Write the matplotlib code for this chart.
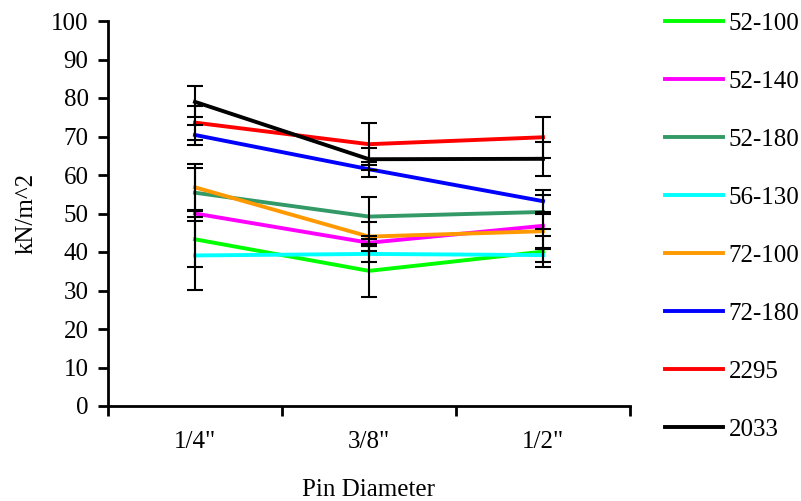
import numpy as np
import matplotlib
matplotlib.use('Agg')
import matplotlib.pyplot as plt

plt.rcParams['font.family'] = ['Liberation Serif', 'DejaVu Serif']

categories = ['1/4"', '3/8"', '1/2"']
series_names = ['52-100', '52-140', '52-180', '56-130', '72-100', '72-180', '2295', '2033']
colors = ['#00FF00', '#FF00FF', '#339966', '#00FFFF', '#FF9900', '#0000FF', '#FF0000', '#000000']

# mean values (kN/m^2)
v_52_100 = [43.3, 35.1, 40.1]
v_52_140 = [50.0, 42.4, 46.8]
v_52_180 = [55.4, 49.2, 50.4]
v_56_130 = [39.1, 39.5, 39.2]
v_72_100 = [56.8, 44.0, 45.4]
v_72_180 = [70.4, 61.5, 53.2]
v_2295 = [73.6, 68.0, 69.8]
v_2033 = [79.0, 64.1, 64.2]

# error bar half-lengths
e_52_100 = [7.25, 6.9, 4.1]
e_52_140 = [0.0, 0.9, 0.0]
e_52_180 = [6.4, 5.0, 4.4]
e_56_130 = [9.0, 2.0, 1.85]
e_72_100 = [6.0, 3.7, 4.6]
e_72_180 = [2.6, 2.0, 2.8]
e_2295 = [4.45, 5.4, 5.3]
e_2033 = [4.0, 2.8, 4.4]

values = [v_52_100, v_52_140, v_52_180, v_56_130, v_72_100, v_72_180, v_2295, v_2033]
errors = [e_52_100, e_52_140, e_52_180, e_56_130, e_72_100, e_72_180, e_2295, e_2033]

fig = plt.figure(figsize=(8.01, 5.01), dpi=100)
ax = fig.add_axes([108 / 801, 1 - 406 / 501, (630 - 108) / 801, (406 - 21) / 501])

x = np.arange(len(categories))
for name, col, vals, err in zip(series_names, colors, values, errors):
    vals = np.array(vals)
    err = np.array(err)
    ax.plot(x, vals, color=col, lw=2.8, label=name, zorder=2)
    m = err > 0
    ax.errorbar(x[m], vals[m], yerr=err[m], fmt='none', ecolor='black',
                elinewidth=1.5, capsize=6, capthick=1.5, zorder=3)

ax.set_xlim(-0.5, 2.5)
ax.set_ylim(0, 100)
ax.set_yticks(np.arange(0, 101, 10))
ax.set_xticks(x)
ax.set_xticklabels(categories)
ax.set_xticks([-0.5, 0.5, 1.5, 2.5], minor=True)
ax.tick_params(axis='x', which='major', length=0, pad=18, labelsize=18)
ax.tick_params(axis='x', which='minor', length=7, width=2, direction='out')
ax.tick_params(axis='y', length=7, width=2, direction='out', pad=7, labelsize=18)

for s in ['top', 'right']:
    ax.spines[s].set_visible(False)
for s in ['left', 'bottom']:
    ax.spines[s].set_linewidth(2)

ax.set_xlabel('Pin Diameter', fontsize=18, labelpad=19)
ax.set_ylabel('kN/m^2', fontsize=18, labelpad=10)

fig.legend(loc='upper left', bbox_to_anchor=(665 / 801, 1 - 12 / 501), frameon=False,
           fontsize=18, handlelength=2.3, handletextpad=0.25, labelspacing=1.42,
           borderpad=0, borderaxespad=0)

fig.savefig('out.png', dpi=100)
